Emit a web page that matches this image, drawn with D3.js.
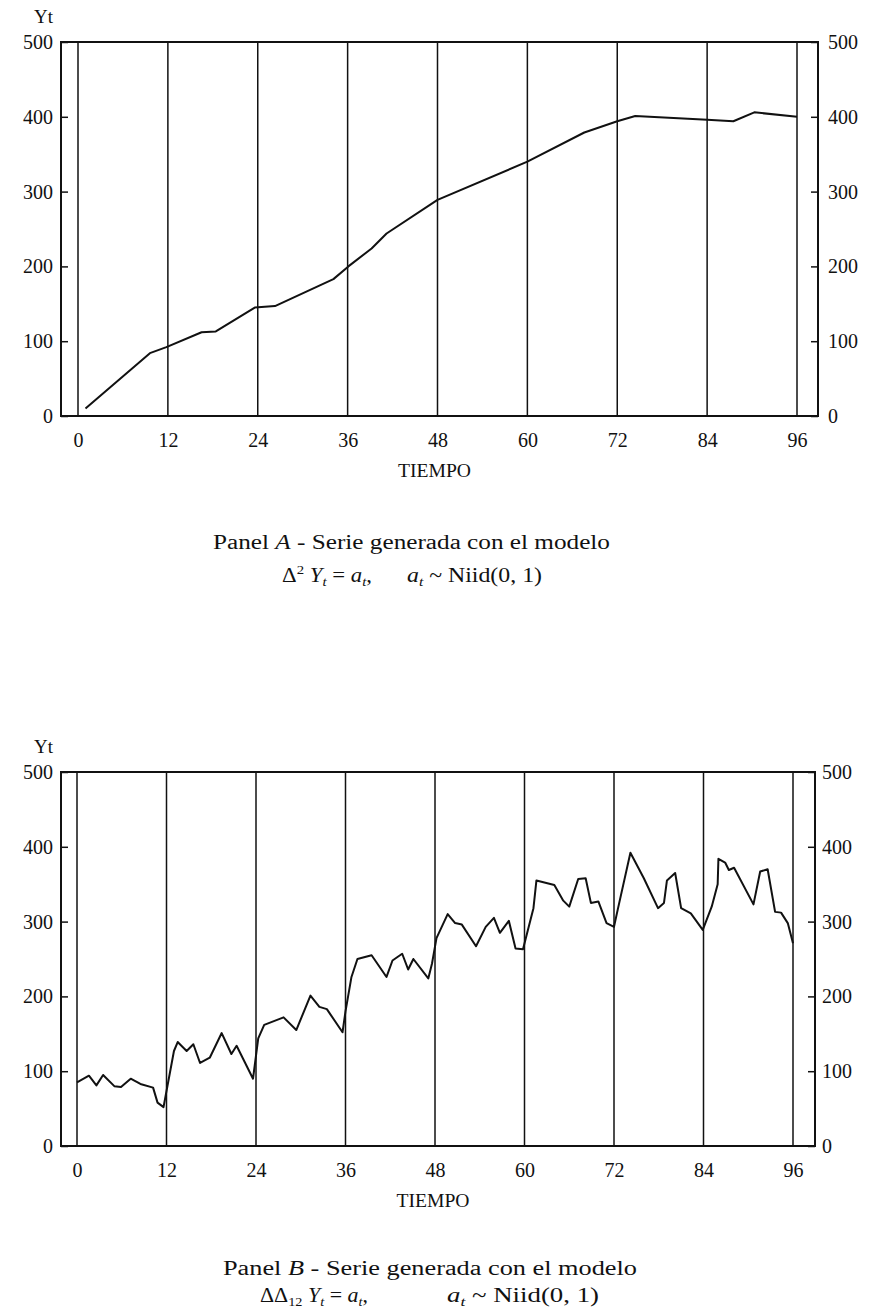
<!DOCTYPE html>
<html>
<head>
<meta charset="utf-8">
<script src="https://cdn.jsdelivr.net/npm/d3@7/dist/d3.min.js"></script>
<style>
  html, body { margin: 0; padding: 0; background: #fff; }
  svg { display: block; }
  text { font-family: "Liberation Serif", "Times New Roman", serif; fill: #111; }
</style>
</head>
<body>
<svg id="chart" width="885" height="1314"></svg>
<script>
// Time axis (months) and value axis ticks
const months = [0, 12, 24, 36, 48, 60, 72, 84, 96];
const yTicks = [0, 100, 200, 300, 400, 500];

// Panel A: series from Δ²Yt = at (vertices of the plotted line)
const seriesATime  = [1, 9.6, 11.8, 16.5, 18.4, 23.6, 26.3, 34.1, 36.1, 39.2, 41.2, 48, 60, 67.6, 72, 74.4, 84, 87.5, 90.3, 96];
const seriesAValue = [10, 84, 92, 112, 113, 145, 147, 183, 200, 224, 244, 289, 340, 379, 394, 401, 396, 394, 406, 400];

// Panel B: series from ΔΔ12 Yt = at (vertices of the plotted line)
const seriesBTime = [
  0, 1.6, 2.6, 3.5, 5.0, 5.9, 7.2, 8.5, 10.2, 10.8, 11.6,
  13.0, 13.5, 14.7, 15.6, 16.5, 17.8, 19.4, 20.7, 21.4, 23.6,
  24.3, 25.1, 27.7, 29.4, 31.3, 32.5, 33.5, 35.6,
  36.0, 36.8, 37.6, 39.5, 41.5, 42.3, 43.6, 44.4, 45.1, 47.1, 47.6, 48.2,
  49.7, 50.7, 51.6, 53.5, 54.8, 55.9, 56.7, 57.9, 58.8, 59.8,
  61.2, 61.6, 64.0, 65.2, 66.0, 67.2, 68.2, 68.9, 69.9, 71.0, 72.0,
  72.5, 74.2, 76.0, 77.9, 78.7, 79.1, 80.2, 81.0, 82.3, 83.9,
  85.1, 85.9, 86.0, 86.9, 87.4, 88.1, 90.7, 91.6, 92.6, 93.6, 94.4, 95.3, 96.0
];
const seriesBValue = [
  85, 94, 81, 95, 80, 79, 90, 83, 78, 58, 52,
  127, 139, 127, 136, 111, 118, 151, 123, 134, 90,
  144, 162, 172, 155, 201, 186, 183, 152,
  180, 226, 250, 255, 226, 248, 257, 236, 250, 224, 244, 278,
  310, 298, 296, 267, 293, 305, 285, 301, 264, 263,
  318, 355, 349, 328, 320, 357, 358, 325, 327, 298, 293,
  316, 392, 358, 318, 325, 355, 365, 318, 311, 289,
  320, 350, 384, 379, 369, 372, 323, 367, 370, 313, 312, 298, 271
];

const xAxisTitle = "TIEMPO";
const yAxisTitle = "Yt";

const svg = d3.select("#chart");

// Layout of each panel
const panels = [
  {
    time: seriesATime, value: seriesAValue,
    frame: { left: 61, right: 818, top: 42, bottom: 416 },
    xRange: [78, 797], rightPad: 10,
    captionY: 549, formulaY: 582,
    caption: { x: 213, width: 397, letter: "A" },
    formula: { kind: "A", leftX: 282, leftW: 90, rightX: 407, rightW: 135 }
  },
  {
    time: seriesBTime, value: seriesBValue,
    frame: { left: 61, right: 815, top: 772, bottom: 1146 },
    xRange: [77, 793], rightPad: 7,
    captionY: 1275, formulaY: 1302,
    caption: { x: 223, width: 414, letter: "B" },
    formula: { kind: "B", leftX: 260, leftW: 108, rightX: 447, rightW: 152 }
  }
];

panels.forEach(p => {
  const f = p.frame;
  const x = d3.scaleLinear().domain([0, 96]).range(p.xRange);
  const y = d3.scaleLinear().domain([0, 500]).range([f.bottom, f.top]);
  const g = svg.append("g");

  // Vertical lines at every 12 months
  g.selectAll("line.season")
    .data(months)
    .join("line")
    .attr("class", "season")
    .attr("x1", d => x(d)).attr("x2", d => x(d))
    .attr("y1", y(0)).attr("y2", y(500))
    .attr("stroke", "#111").attr("stroke-width", 1.5);

  // Left value axis (ticks pointing inward)
  const axL = g.append("g")
    .attr("transform", `translate(${f.left},0)`)
    .call(d3.axisLeft(y).tickValues(yTicks).tickSize(-7).tickPadding(8));
  // Right value axis
  const axR = g.append("g")
    .attr("transform", `translate(${f.right},0)`)
    .call(d3.axisRight(y).tickValues(yTicks).tickSize(-7).tickPadding(p.rightPad));
  // Bottom time axis labels
  const axB = g.append("g")
    .attr("transform", `translate(0,${f.bottom})`)
    .call(d3.axisBottom(x).tickValues(months).tickSize(0).tickPadding(17));

  [axL, axR, axB].forEach(ax => {
    ax.select(".domain").remove();
    ax.selectAll(".tick line").attr("stroke", "#111").attr("stroke-width", 1.5);
    ax.selectAll(".tick text")
      .attr("fill", "#111")
      .style("font-family", "'Liberation Serif', serif")
      .style("font-size", "20px");
  });
  axB.selectAll(".tick line").remove();

  // Frame
  g.append("rect")
    .attr("x", f.left).attr("y", f.top)
    .attr("width", f.right - f.left).attr("height", f.bottom - f.top)
    .attr("fill", "none").attr("stroke", "#111").attr("stroke-width", 2);

  // Series line
  const pts = p.time.map((t, i) => [t, p.value[i]]);
  g.append("path")
    .datum(pts)
    .attr("fill", "none")
    .attr("stroke", "#111")
    .attr("stroke-width", 2)
    .attr("stroke-linejoin", "round")
    .attr("d", d3.line().x(d => x(d[0])).y(d => y(d[1])));

  // Axis titles
  g.append("text")
    .attr("x", 34).attr("y", f.top - 19)
    .style("font-size", "19px")
    .text(yAxisTitle);
  g.append("text")
    .attr("x", (f.left + f.right) / 2 - 5).attr("y", f.bottom + 61)
    .attr("text-anchor", "middle")
    .attr("textLength", 73).attr("lengthAdjust", "spacingAndGlyphs")
    .style("font-size", "18px")
    .text(xAxisTitle);

  // Caption line
  const cap = g.append("text")
    .attr("x", p.caption.x).attr("y", p.captionY)
    .attr("textLength", p.caption.width).attr("lengthAdjust", "spacingAndGlyphs")
    .style("font-size", "20px");
  cap.append("tspan").text("Panel ");
  cap.append("tspan").style("font-style", "italic").text(p.caption.letter);
  cap.append("tspan").text(" - Serie generada con el modelo");

  // Model formula, left part
  const fm = p.formula;
  const left = g.append("text")
    .attr("x", fm.leftX).attr("y", p.formulaY)
    .attr("textLength", fm.leftW).attr("lengthAdjust", "spacingAndGlyphs")
    .style("font-size", "20px");
  if (fm.kind === "A") {
    left.append("tspan").text("Δ");
    left.append("tspan").attr("dy", -8).style("font-size", "13px").text("2");
    left.append("tspan").attr("dy", 8).text(" ");
  } else {
    left.append("tspan").text("ΔΔ");
    left.append("tspan").attr("dy", 4).style("font-size", "13px").text("12");
    left.append("tspan").attr("dy", -4).text(" ");
  }
  left.append("tspan").style("font-style", "italic").text("Y");
  left.append("tspan").attr("dy", 4).style("font-size", "13px").style("font-style", "italic").text("t");
  left.append("tspan").attr("dy", -4).text(" = ");
  left.append("tspan").style("font-style", "italic").text("a");
  left.append("tspan").attr("dy", 4).style("font-size", "13px").style("font-style", "italic").text("t");
  left.append("tspan").attr("dy", -4).text(",");

  // Model formula, right part
  const right = g.append("text")
    .attr("x", fm.rightX).attr("y", p.formulaY)
    .attr("textLength", fm.rightW).attr("lengthAdjust", "spacingAndGlyphs")
    .style("font-size", "20px");
  right.append("tspan").style("font-style", "italic").text("a");
  right.append("tspan").attr("dy", 4).style("font-size", "13px").style("font-style", "italic").text("t");
  right.append("tspan").attr("dy", -4).text(" ~ Niid(0, 1)");
});
</script>
</body>
</html>
